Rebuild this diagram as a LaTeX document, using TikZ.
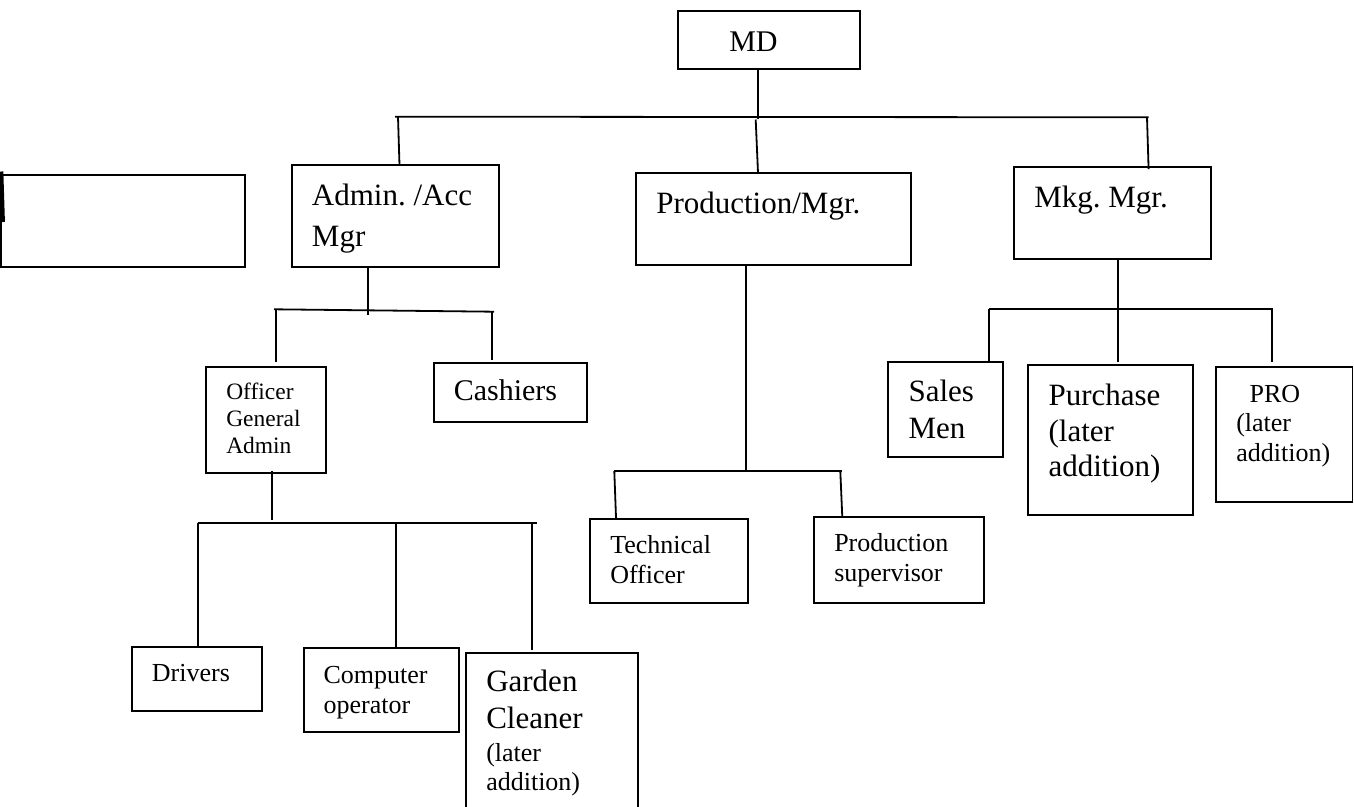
\documentclass[tikz,border=0pt]{standalone}
\usepackage{fontspec}
\setmainfont{Liberation Serif}
\usetikzlibrary{fit}
\frenchspacing
\begin{document}
\begin{tikzpicture}[x=0.75pt,y=-0.75pt,
  box/.style={draw=black,line width=1.35pt,inner sep=0pt,rectangle},
  conn/.style={draw=black,line width=1.35pt},
  big/.style={anchor=base west,inner sep=0pt,font=\fontsize{23.25}{28}\selectfont\frenchspacing},
  mid/.style={anchor=base west,inner sep=0pt,font=\fontsize{22.5}{27}\selectfont},
  sml/.style={anchor=base west,inner sep=0pt,font=\fontsize{19.5}{23}\selectfont},
  tny/.style={anchor=base west,inner sep=0pt,font=\fontsize{17.6}{21}\selectfont}]
\useasboundingbox[fill=white] (0,0) rectangle (1354,807);

% boxes
\node[box,fit={(677.7,11) (860,69.3)}] (md) {};
\node[box,fit={(0.8,175) (245,267.3)}] (blank) {};
\node[box,fit={(292,165) (498.7,267.3)}] (admin) {};
\node[box,fit={(635.7,173) (911,265)}] (prod) {};
\node[box,fit={(1014,167.3) (1210.7,259.3)}] (mkg) {};
\node[box,fit={(206,367.3) (326,472.7)}] (officer) {};
\node[box,fit={(433.7,363.3) (586.7,421.7)}] (cash) {};
\node[box,fit={(131.7,646.7) (262.3,710.7)}] (drivers) {};
\node[box,fit={(303.7,648.3) (458.7,731.7)}] (comp) {};
\node[box,fit={(465.7,652.7) (638.3,815)}] (garden) {};
\node[box,fit={(590,519.3) (748.3,603.3)}] (tech) {};
\node[box,fit={(814,516.7) (984.3,603.3)}] (psup) {};
\node[box,fit={(887.7,361.7) (1002.7,457.3)}] (sales) {};
\node[box,fit={(1027.7,365) (1192.7,515)}] (purch) {};
\node[box,fit={(1216,367.3) (1352.5,501.7)}] (pro) {};

% thick mark on the blank box
\coordinate (bm1) at (1.6,171.5);
\coordinate (bm2) at (3.2,222);
\draw[line width=2.6pt] (bm1) -- (bm2);

% texts
\node[mid] (tmd) at (729,51.7) {MD};
\node[big] (tad1) at (311.7,205) {Admin. /Acc};
\node[big] (tad2) at (311.7,246.7) {Mgr};
\node[big] (tpr) at (656,213.3) {Production/Mgr.};
\node[big] (tmk) at (1034,207.3) {Mkg. Mgr.};
\node[tny] (tof1) at (226,399.3) {Officer};
\node[tny] (tof2) at (226,426.7) {General};
\node[tny] (tof3) at (226,453.3) {Admin};
\node[mid] (tca) at (453.5,400) {Cashiers};
\node[sml] (tdr) at (151.7,681.7) {Drivers};
\node[sml] (tco1) at (323.3,683.3) {Computer};
\node[sml] (tco2) at (323.3,713.3) {operator};
\node[big] (tga1) at (486,691.7) {Garden};
\node[big] (tga2) at (486,728.3) {Cleaner};
\node[sml] (tga3) at (486,761.7) {(later};
\node[sml] (tga4) at (486,790) {addition)};
\node[sml] (tte1) at (610,553.3) {Technical};
\node[sml] (tte2) at (610,583.3) {Officer};
\node[sml] (tps1) at (834,551.7) {Production};
\node[sml] (tps2) at (834,581.7) {supervisor};
\node[big] (tsa1) at (908.3,401.7) {Sales};
\node[big] (tsa2) at (908.3,438.3) {Men};
\node[big] (tpu1) at (1048.3,405) {Purchase};
\node[big] (tpu2) at (1048.3,441.7) {(later};
\node[big] (tpu3) at (1048.3,476.7) {addition)};
\node[sml] (tpo1) at (1249.3,402.3) {PRO};
\node[sml] (tpo2) at (1236,431.7) {(later};
\node[sml] (tpo3) at (1236,461.7) {addition)};

% junction coordinates
\coordinate (mdj) at (757.7,119);
\coordinate (barL) at (395,116.7);
\coordinate (barR) at (1148.7,117.3);
\coordinate (adT) at (398,117);
\coordinate (prT) at (755.7,119.5);
\coordinate (mkT) at (1147,117.3);
\coordinate (adj) at (368,315);
\coordinate (adL) at (274,309.3);
\coordinate (adR) at (494,311.7);
\coordinate (ofT) at (276,309.5);
\coordinate (ofB) at (276,361.7);
\coordinate (caT) at (492.3,311.5);
\coordinate (caB) at (492.3,360);
\coordinate (ofj) at (272,520);
\coordinate (obL) at (197.7,522.7);
\coordinate (obR) at (536.7,522.7);
\coordinate (coT) at (396,522.7);
\coordinate (grT) at (532.3,522.7);
\coordinate (grB) at (532.3,650);
\coordinate (prj) at (746,471);
\coordinate (pbL) at (614.3,471);
\coordinate (pbR) at (842.3,471);
\coordinate (psT) at (840.3,471);
\coordinate (mkj) at (1118.3,309.3);
\coordinate (mbL) at (989.3,309.3);
\coordinate (mbR) at (1273.3,309.3);
\coordinate (puB) at (1118.3,361.7);
\coordinate (poT) at (1272.3,309.3);
\coordinate (poB) at (1272.3,361.7);

% connectors
\draw[conn] (md.south -| mdj) -- (mdj);
\draw[conn] (barL) -- (barR);
\draw[conn] (adT) -- ([xshift=1.1pt]adT |- admin.north);
\draw[conn] (prT) -- ([xshift=1.7pt]prT |- prod.north);
\draw[conn] (mkT) -- ([xshift=1.2pt,yshift=-2pt]mkT |- mkg.north);

\draw[conn] (admin.south -| adj) -- (adj);
\draw[conn] (adL) -- (adR);
\draw[conn] (ofT) -- (ofB);
\draw[conn] (caT) -- (caB);

\draw[conn] ([yshift=2pt]officer.south -| ofj) -- (ofj);
\draw[conn] (obL) -- (obR);
\draw[conn] (obL) -- (obL |- drivers.north);
\draw[conn] (coT) -- (coT |- comp.north);
\draw[conn] (grT) -- (grB);

\draw[conn] (prod.south -| prj) -- (prj);
\draw[conn] (pbL) -- (pbR);
\draw[conn] (pbL) -- ([xshift=1.3pt]pbL |- tech.north);
\draw[conn] (psT) -- ([xshift=1.5pt,yshift=-1pt]psT |- psup.north);

\draw[conn] (mkg.south -| mkj) -- (mkj);
\draw[conn] (mbL) -- (mbR);
\draw[conn] (mbL) -- (mbL |- sales.north);
\draw[conn] (mkj) -- (puB);
\draw[conn] (poT) -- (poB);
\end{tikzpicture}
\end{document}
